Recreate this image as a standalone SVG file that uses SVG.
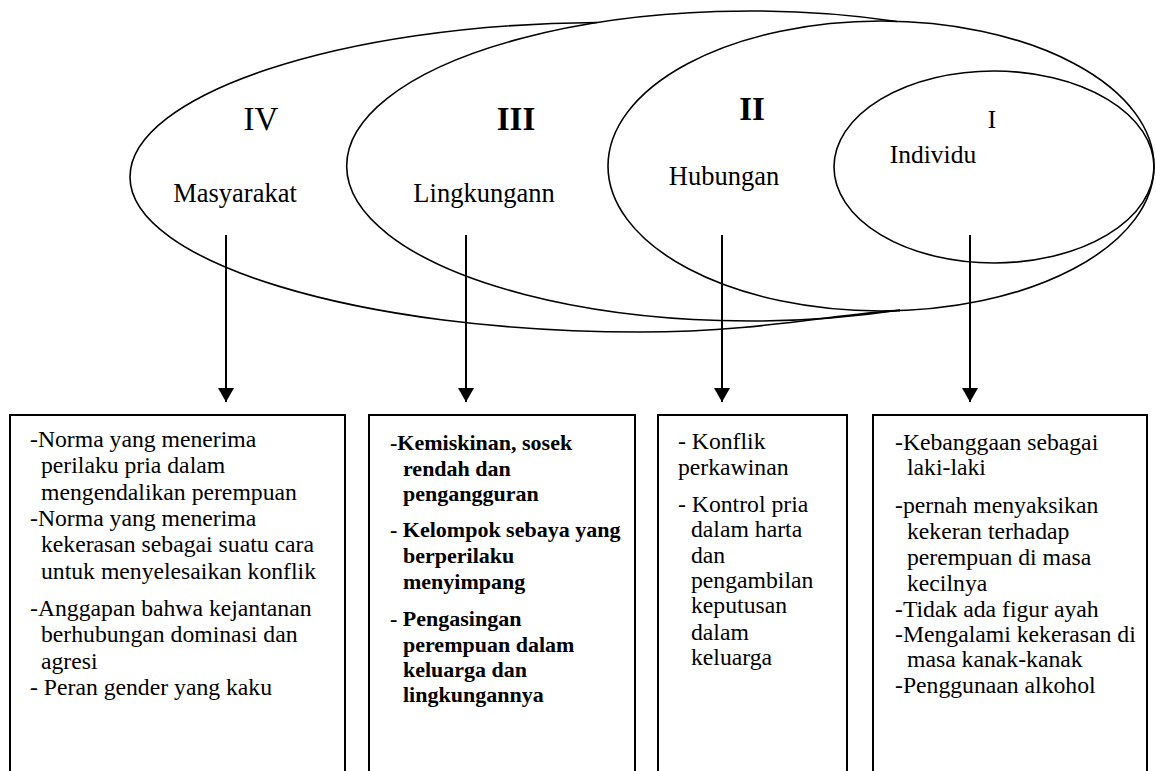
<svg xmlns="http://www.w3.org/2000/svg" width="1156" height="771" viewBox="0 0 1156 771">
<defs>
<marker id="ah" markerWidth="14" markerHeight="16" refX="14" refY="8" orient="auto" markerUnits="userSpaceOnUse" viewBox="0 0 14 16">
<path d="M0,0 L14,8 L0,16 Z" fill="#000"/>
</marker>
</defs>
<style>
.sh{fill:none;stroke:#000;stroke-width:1.6}
.box{fill:#fff;stroke:#000;stroke-width:2}
.con{stroke:#000;stroke-width:2;fill:none}
text{font-family:"Liberation Serif","Times New Roman",serif;fill:#000}
.lab{font-size:26.5px}
.num{font-size:33px}
.b{font-weight:bold}
.t{font-size:23.7px}
.tb{font-size:22px;font-weight:bold}
</style>
<rect width="1156" height="771" fill="#fff"/>

<g id="ring-IV">
<path class="sh" d="M597,22.5 C340,24 130,95 130,177 C130,262 358,332 640,332 C760,332 840,313 900,310.6"/>
<text class="num" x="261" y="130" text-anchor="middle">IV</text>
<text class="lab" x="235" y="202" text-anchor="middle">Masyarakat</text>
</g>
<g id="ring-III">
<path class="sh" d="M900,310 A404 155 0 1 1 897,21.5"/>
<text class="num b" x="516" y="130" text-anchor="middle">III</text>
<text class="lab" x="484" y="202" text-anchor="middle">Lingkungann</text>
</g>
<g id="ring-II">
<ellipse class="sh" cx="881" cy="166" rx="273" ry="145"/>
<text class="num b" x="752" y="120" text-anchor="middle">II</text>
<text class="lab" x="724" y="185" text-anchor="middle">Hubungan</text>
</g>
<g id="ring-I">
<ellipse class="sh" cx="994" cy="167" rx="160" ry="96"/>
<text class="lab" x="992" y="128" text-anchor="middle" style="font-size:25px">I</text>
<text class="lab" x="933" y="163" text-anchor="middle" style="font-size:25.5px">Individu</text>
</g>

<g id="connectors">
<line class="con" x1="226" y1="235" x2="226" y2="402" marker-end="url(#ah)"/>
<line class="con" x1="466" y1="235" x2="466" y2="402" marker-end="url(#ah)"/>
<line class="con" x1="722" y1="235" x2="722" y2="402" marker-end="url(#ah)"/>
<line class="con" x1="970" y1="235" x2="970" y2="402" marker-end="url(#ah)"/>
</g>

<g id="box-masyarakat">
<rect class="box" x="10" y="415" width="335" height="370"/>
<text class="t">
<tspan x="30" y="447">-Norma yang menerima</tspan>
<tspan x="41" y="473.3">perilaku pria dalam</tspan>
<tspan x="41" y="499.6">mengendalikan perempuan</tspan>
<tspan x="30" y="526">-Norma yang menerima</tspan>
<tspan x="41" y="552.2">kekerasan sebagai suatu cara</tspan>
<tspan x="41" y="578.5">untuk menyelesaikan konflik</tspan>
<tspan x="30" y="616">-Anggapan bahwa kejantanan</tspan>
<tspan x="41" y="642.3">berhubungan dominasi dan</tspan>
<tspan x="41" y="668.6">agresi</tspan>
<tspan x="30" y="695">- Peran gender yang kaku</tspan>
</text>
</g>

<g id="box-lingkungan">
<rect class="box" x="369" y="415" width="266" height="370"/>
<text class="tb">
<tspan x="390" y="450">-Kemiskinan, sosek</tspan>
<tspan x="403" y="476">rendah dan</tspan>
<tspan x="403" y="501">pengangguran</tspan>
<tspan x="390" y="537">- Kelompok sebaya yang</tspan>
<tspan x="403" y="563">berperilaku</tspan>
<tspan x="403" y="589">menyimpang</tspan>
<tspan x="390" y="626">- Pengasingan</tspan>
<tspan x="403" y="652">perempuan dalam</tspan>
<tspan x="403" y="677">keluarga dan</tspan>
<tspan x="403" y="702">lingkungannya</tspan>
</text>
</g>

<g id="box-hubungan">
<rect class="box" x="658" y="415" width="189" height="370"/>
<text class="t">
<tspan x="678" y="449">- Konflik</tspan>
<tspan x="678" y="475">perkawinan</tspan>
<tspan x="678" y="512">- Kontrol pria</tspan>
<tspan x="691" y="537">dalam harta</tspan>
<tspan x="691" y="563">dan</tspan>
<tspan x="691" y="588">pengambilan</tspan>
<tspan x="691" y="613">keputusan</tspan>
<tspan x="691" y="640">dalam</tspan>
<tspan x="691" y="665">keluarga</tspan>
</text>
</g>

<g id="box-individu">
<rect class="box" x="873" y="415" width="274" height="370"/>
<text class="t">
<tspan x="895" y="450">-Kebanggaan sebagai</tspan>
<tspan x="907" y="475">laki-laki</tspan>
<tspan x="895" y="513">-pernah menyaksikan</tspan>
<tspan x="907" y="539">kekeran terhadap</tspan>
<tspan x="907" y="565">perempuan di masa</tspan>
<tspan x="907" y="591">kecilnya</tspan>
<tspan x="895" y="617">-Tidak ada figur ayah</tspan>
<tspan x="895" y="642">-Mengalami kekerasan di</tspan>
<tspan x="907" y="667">masa kanak-kanak</tspan>
<tspan x="895" y="693">-Penggunaan alkohol</tspan>
</text>
</g>
</svg>
